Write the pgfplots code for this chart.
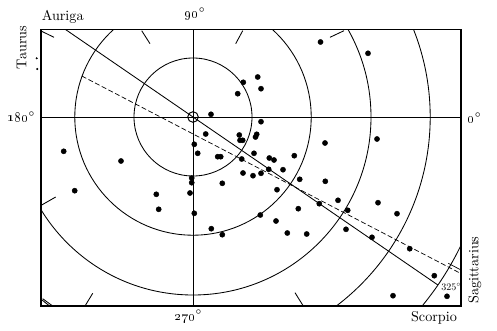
\documentclass[border=0pt]{standalone}
\usepackage{pgfplots}
\pgfplotsset{compat=1.18}
\tikzset{lab/.style={font=\fontsize{10}{12}\selectfont, scale=1.42, transform shape, inner sep=0pt}}
\begin{document}
\begin{tikzpicture}
\begin{axis}[
  x=1pt, y=1pt,
  xmin=-152, xmax=268, ymin=-189, ymax=87.5,
  xtick=\empty, ytick=\empty,
  clip=false,
  axis line style={line width=1.2pt},
  scale only axis,
]
% fixed bounding box = full reference canvas
\path (axis cs:-193,-213) rectangle (axis cs:304,117);
% concentric distance circles (clipped to the frame)
\begin{scope}
\clip (axis cs:-152,-189) rectangle (axis cs:268,87.5);
\draw[line width=0.85pt] (axis cs:0,0) circle[radius=59.0];
\draw[line width=0.85pt] (axis cs:0,0) circle[radius=118.2];
\draw[line width=0.85pt] (axis cs:0,0) circle[radius=178.0];
\draw[line width=0.85pt] (axis cs:0,0) circle[radius=237.2];
\draw[line width=0.85pt] (axis cs:0,0) circle[radius=297.0];
\end{scope}
% axes through the centre
\addplot[black, no marks, line width=0.85pt] coordinates {(-152,0) (268,0)};
\addplot[black, no marks, line width=0.85pt] coordinates {(0,-189) (0,87.5)};
% galactic plane (solid) and dashed line
\addplot[black, no marks, line width=0.85pt] coordinates {(-127.5,87.5) (244.9,-168.0)};
\addplot[black, no marks, line width=0.7pt, dash pattern=on 5pt off 2.5pt] coordinates {(-111.2,41.0) (268,-156.6)};
\addplot[black, no marks, line width=0.7pt] coordinates {(255.3,-146.3) (268,-153)};
% short ticks on the frame
\addplot[black, no marks, line width=0.85pt] coordinates {(-151.3,85.7) (-139,79.7)};
\addplot[black, no marks, line width=0.85pt] coordinates {(-51.3,86.3) (-43,73.3)};
\addplot[black, no marks, line width=0.85pt] coordinates {(49.7,86.3) (42.7,73.3)};
\addplot[black, no marks, line width=0.85pt] coordinates {(151,86.3) (137,79.7)};
\addplot[black, no marks, line width=0.85pt] coordinates {(-151.3,-88) (-137.3,-80)};
\addplot[black, no marks, line width=0.85pt] coordinates {(-150.3,-181.7) (-140.3,-189)};
\addplot[black, no marks, line width=0.85pt] coordinates {(-108,-189) (-100.3,-176.3)};
\addplot[black, no marks, line width=0.85pt] coordinates {(102,-175.7) (110.3,-189)};
% centre (Sun)
\addplot[black, only marks, mark=o, mark size=5.3pt, mark options={line width=0.95pt}] coordinates {(0,0)};
% clusters
\addplot[black, only marks, mark=*, mark size=2.6pt] coordinates {
(127.5,75) (175,63.7) (64.7,40) (50.3,34.7) (68,28.3) (44.7,23.3) (18,2.7) (68,-4.7)
(12.7,-17) (46.3,-18) (63.7,-17.3) (62.5,-20) (47,-23.3) (49.7,-23.3) (1.3,-27.3)
(4.7,-36.3) (24.7,-39.7) (27.7,-39.7) (48.7,-42) (61,-36.3) (76.3,-41) (81,-43)
(101.3,-38.7) (132,-26) (184,-22) (-129.3,-34.3) (-72,-44) (-118.3,-73.7)
(-36.7,-77.3) (-34.3,-92.3) (-1.3,-61) (-1.3,-65.7) (-3,-76) (29.3,-66.3) (50,-56)
(60,-58.7) (68,-56.3) (75.7,-52.3) (90,-52.7) (106.7,-62.3) (84,-72.7) (126.3,-86.7)
(105.3,-91.7) (1.3,-96.3) (67.3,-98) (83,-104) (18.3,-111.7) (29.3,-117.7) (94.3,-116)
(113.7,-117) (132.3,-64.3) (145,-83.3) (154.7,-93.3) (185,-85.7) (204,-96.7)
(153,-112.3) (179,-120.3) (216.7,-131.7) (241.3,-158.7) (200,-178.7) (254,-179.3)
};
% specks beside Taurus
\addplot[black, only marks, mark=*, mark size=0.8pt] coordinates {(-156.3,58.7) (-155.7,48)};
% labels
\node[lab, anchor=base west] at (axis cs:-151.5,96.3) {Auriga};
\node[lab, anchor=base] at (axis cs:2,99) {\oldstylenums{90}$^{\circ}$};
\node[lab, anchor=base] at (axis cs:-171.8,-4.5) {\oldstylenums{180}$^{\circ}$};
\node[lab, anchor=base] at (axis cs:281.5,-5.5) {\oldstylenums{0}$^{\circ}$};
\node[lab, anchor=base] at (axis cs:-4.7,-203) {\oldstylenums{270}$^{\circ}$};
\node[lab, anchor=base] at (axis cs:241,-204.5) {Scorpio};
\node[lab, anchor=base, rotate=90] at (axis cs:-166.5,69.5) {Taurus};
\node[lab, anchor=base, rotate=90] at (axis cs:285.3,-153) {Sagittarius};
\node[font=\fontsize{10}{12}\selectfont, anchor=base, inner sep=0pt] at (axis cs:258.2,-173.5) {325$^{\circ}$};
\end{axis}
\end{tikzpicture}
\end{document}
